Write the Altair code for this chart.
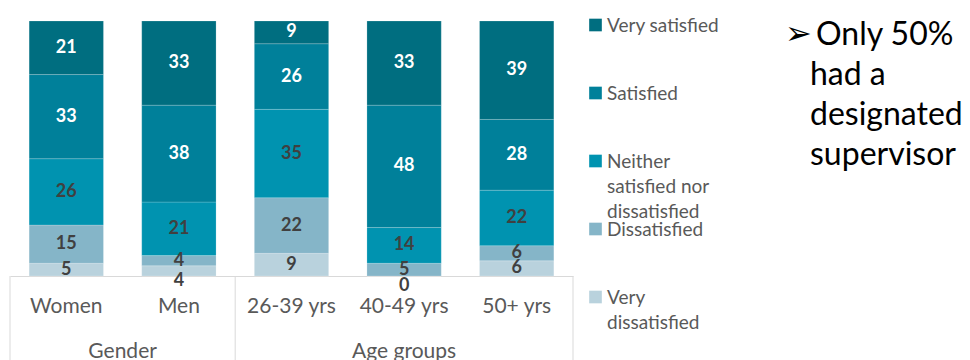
import altair as alt
import pandas as pd

# ---- data -------------------------------------------------------------
groups = ["Women", "Men", "26-39 yrs", "40-49 yrs", "50+ yrs"]
levels = ["Very dissatisfied", "Dissatisfied", "Neither satisfied nor dissatisfied",
          "Satisfied", "Very satisfied"]
very_dissatisfied = [5, 4, 9, 0, 6]
dissatisfied = [15, 4, 22, 5, 6]
neither = [26, 21, 35, 14, 22]
satisfied = [33, 38, 26, 48, 28]
very_satisfied = [21, 33, 9, 33, 39]
level_colors = ["#B9D2DD", "#85B5C8", "#0093B0", "#00809A", "#006E80"]

legend_order = ["Very satisfied", "Satisfied", "Neither satisfied nor dissatisfied",
                "Dissatisfied", "Very dissatisfied"]
legend_labels = ["Very satisfied", "Satisfied", "Neither|satisfied nor|dissatisfied",
                 "Dissatisfied", "Very|dissatisfied"]

group_names = ["Gender", "Age groups"]
group_first = ["Women", "26-39 yrs"]
group_last = ["50+ yrs"]
note_first = ["Only 50%"]
note_rest = ["had a", "designated", "supervisor"]
bullet = ["\u27A2"]

series = [very_dissatisfied, dissatisfied, neither, satisfied, very_satisfied]
rows = []
for k, (lv, vals) in enumerate(zip(levels, series)):
    for g, v in zip(groups, vals):
        rows.append({"cat": g, "level": lv, "k": k, "value": v})
df = pd.DataFrame(rows)

GREY = "#595959"
LINE = "#D9D9D9"
FONT = "Lato"

xscale = alt.Scale(domain=groups, paddingInner=0, paddingOuter=0)
xaxis = alt.Axis(title=None, labelAngle=0, ticks=False, tickSize=0, grid=False,
                 domainColor=LINE, domainWidth=1, labelFont=FONT,
                 labelFontSize=21, labelColor=GREY, labelPadding=19)
xenc = alt.X("cat:N", sort=groups, scale=xscale, axis=xaxis)
yscale = alt.Scale(domain=[0, 1])
cscale = alt.Scale(domain=levels, range=level_colors)

base = alt.Chart(df).transform_stack(
    stack="value", groupby=["cat"], as_=["y0", "y1"], offset="normalize",
    sort=[alt.SortField("k", order="ascending")]
).transform_calculate(mid="(datum.y0 + datum.y1) / 2")

bars = base.mark_bar(width=alt.RelativeBandSize(0.66), stroke="white",
                     strokeWidth=0.6, strokeOpacity=0.3).encode(
    x=xenc,
    y=alt.Y("y0:Q", scale=yscale, axis=None),
    y2="y1:Q",
    color=alt.Color("level:N", scale=cscale, legend=None),
)

label_color = alt.condition("datum.k >= 3", alt.value("white"), alt.value("#404040"))

labels = base.transform_filter("!(datum.k == 0 && datum.value < 5)").mark_text(
    font=FONT, fontWeight="bold", fontSize=18, baseline="middle"
).encode(x=xenc, y=alt.Y("mid:Q", scale=yscale, axis=None), text="value:Q",
         color=label_color)

labels_small = base.transform_filter("datum.k == 0 && datum.value < 5").mark_text(
    font=FONT, fontWeight="bold", fontSize=18, baseline="middle", dy=10
).encode(x=xenc, y=alt.Y("mid:Q", scale=yscale, axis=None), text="value:Q",
         color=label_color)

sep = alt.Chart(pd.DataFrame({"cat": group_first})).mark_rule(
    color=LINE, strokeWidth=1
).encode(x=alt.X("cat:N", sort=groups, scale=xscale, axis=xaxis, bandPosition=0),
         y=alt.value(255), y2=alt.value(345))

sep_end = alt.Chart(pd.DataFrame({"cat": group_last})).mark_rule(
    color=LINE, strokeWidth=1
).encode(x=alt.X("cat:N", sort=groups, scale=xscale, axis=xaxis, bandPosition=1),
         y=alt.value(255), y2=alt.value(345))

gender_lbl = alt.Chart(pd.DataFrame({"cat": ["Women"], "g": [group_names[0]]})).mark_text(
    font=FONT, fontSize=21, color=GREY, baseline="alphabetic"
).encode(x=alt.X("cat:N", sort=groups, scale=xscale, axis=xaxis, bandPosition=1),
         y=alt.value(337), text="g:N")

age_lbl = alt.Chart(pd.DataFrame({"cat": ["40-49 yrs"], "g": [group_names[1]]})).mark_text(
    font=FONT, fontSize=21, color=GREY, baseline="alphabetic"
).encode(x=alt.X("cat:N", sort=groups, scale=xscale, axis=xaxis, bandPosition=0.5),
         y=alt.value(337), text="g:N")

main = alt.layer(bars, labels, labels_small, sep, sep_end, gender_lbl, age_lbl)

# ---- legend + note ------------------------------------------------------
leg_df = pd.DataFrame({"level": legend_order, "label": legend_labels})
leg_y = alt.Y("level:N", sort=legend_order,
              scale=alt.Scale(type="point", domain=legend_order, range=[4, 276], padding=0),
              axis=None)

squares = alt.Chart(leg_df).mark_square(size=160, filled=True, opacity=1).encode(
    x=alt.value(585.5), y=leg_y,
    color=alt.Color("level:N", scale=cscale, legend=None))

leg_text = alt.Chart(leg_df).mark_text(
    align="left", baseline="top", lineBreak="|", font=FONT, fontSize=19,
    lineHeight=25, color=GREY, yOffset=-8
).encode(x=alt.value(597), y=leg_y, text="label:N")

note1 = alt.Chart(pd.DataFrame({"t": note_first})).mark_text(
    align="left", baseline="alphabetic", font=FONT, fontSize=32, color="black"
).encode(x=alt.value(806), y=alt.value(24), text="t:N")

note2 = alt.Chart(pd.DataFrame({"t": ["|".join(note_rest)]})).mark_text(
    align="left", baseline="alphabetic", lineBreak="|", font=FONT, fontSize=32,
    lineHeight=40, color="black"
).encode(x=alt.value(800), y=alt.value(64), text="t:N")

bul = alt.Chart(pd.DataFrame({"t": bullet})).mark_text(
    align="left", baseline="alphabetic", font="DejaVu Sans", fontSize=32, color="black"
).encode(x=alt.value(775), y=alt.value(23), text="t:N")

side = alt.layer(squares, leg_text, note1, note2, bul)

chart = alt.layer(main, side).resolve_scale(y="independent").properties(
    width=563, height=255,
    background="white",
    autosize=alt.AutoSizeParams(type="none"),
    padding={"left": 10, "top": 21, "right": 397, "bottom": 84},
).configure_view(stroke=None)

chart.save("out.html", embed_options={"renderer": "svg", "actions": False})
